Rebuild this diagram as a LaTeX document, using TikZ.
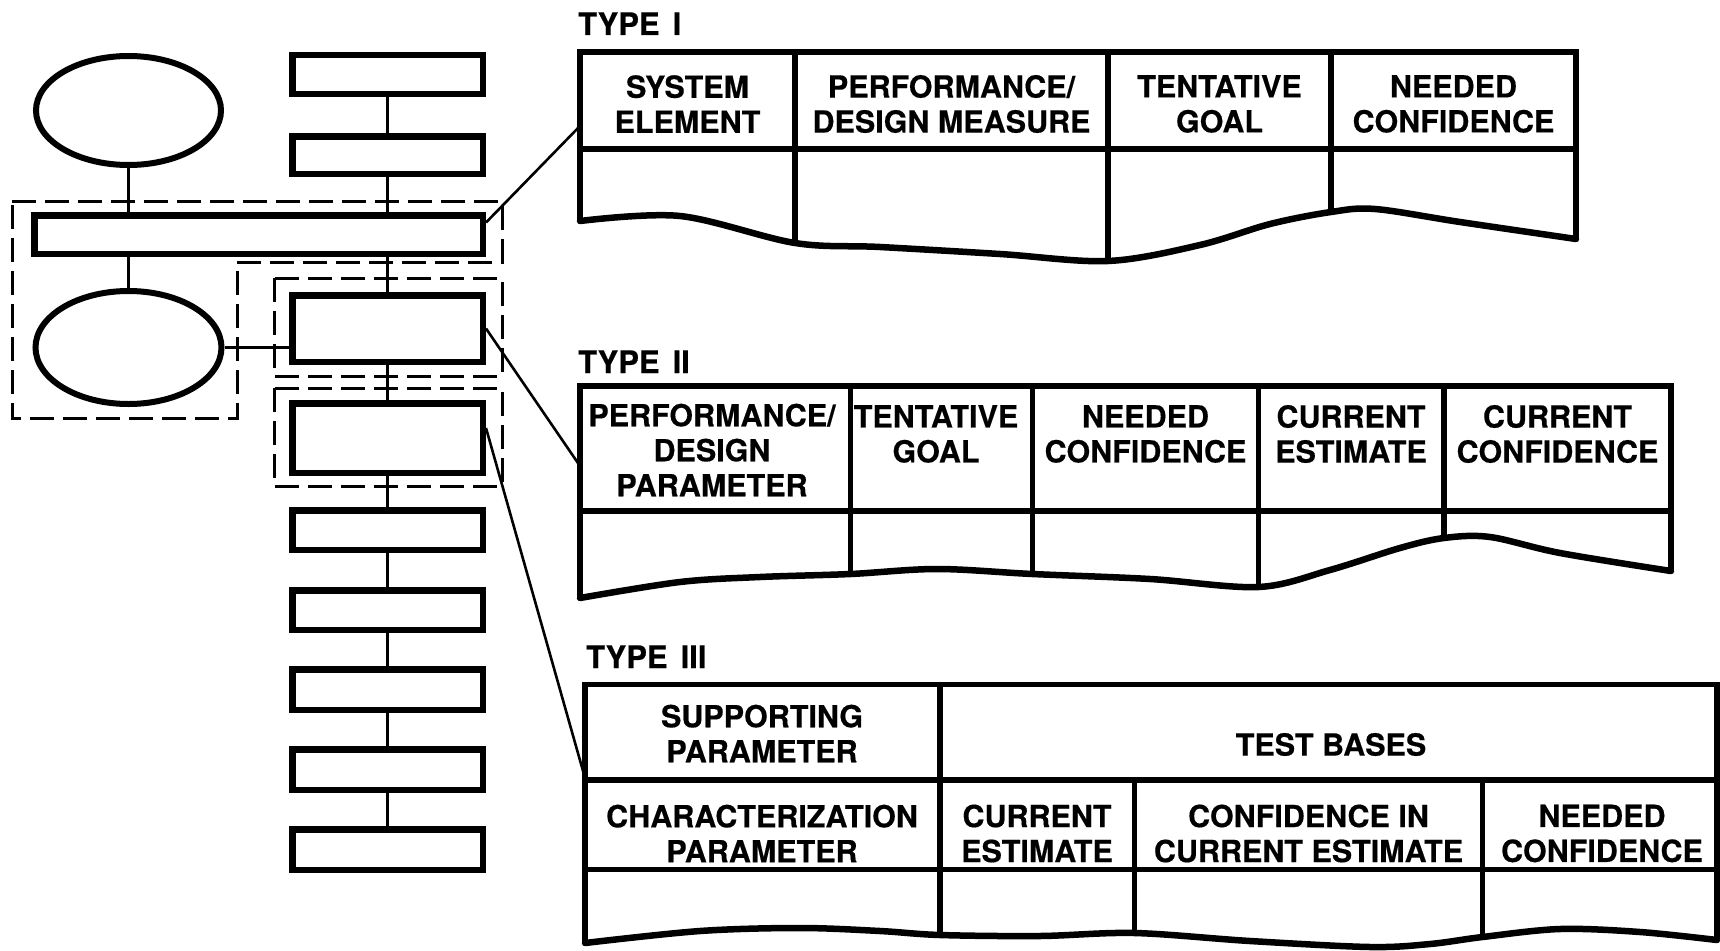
\documentclass[tikz,border=0pt]{standalone}
\usepackage{fontspec}
\newfontfamily\hv{TeX Gyre Heros}[FakeBold=0.4]
\usetikzlibrary{shapes.geometric}
\begin{document}
\begin{tikzpicture}[x=1pt,y=-1pt,
  blk/.style={draw, line width=6.5pt, rectangle, inner sep=0pt, minimum width=190.5pt, minimum height=38.5pt},
  ell/.style={draw, line width=6pt, ellipse, inner sep=0pt},
  wire/.style={line width=2.6pt},
  grp/.style={line width=3pt, dash pattern=on 24pt off 9pt},
  rule/.style={line width=5.5pt},
  tear/.style={line width=6.5pt, line join=round, line cap=round},
  lead/.style={line width=2.6pt},
  txt/.style={align=center, inner sep=0pt, font=\hv\bfseries\fontsize{30.5}{35}\selectfont},
  ttl/.style={anchor=base west, inner sep=0pt, font=\hv\bfseries\fontsize{31}{35}\selectfont}]
\useasboundingbox (0,0) rectangle (1720,950);

% ---- block chain on the left ----
\node[blk] (b1) at (387.5,74.5) {};
\node[blk, minimum height=37.5pt] (b2) at (387.5,155) {};
\node[blk, minimum width=448.5pt] (wide) at (258.5,234.5) {};
\node[blk, minimum height=66.5pt] (b3) at (387.5,328.5) {};
\node[blk, minimum height=69.5pt] (b4) at (387.5,438) {};
\node[blk, minimum height=39.5pt] (b5) at (387.5,530) {};
\node[blk, minimum height=39.5pt] (b6) at (387.5,610) {};
\node[blk, minimum height=40.5pt] (b7) at (387.5,689.5) {};
\node[blk, minimum height=40.5pt] (b8) at (387.5,769.5) {};
\node[blk, minimum height=40.5pt] (b9) at (387.5,849.5) {};
\node[ell, minimum width=185pt, minimum height=109pt] (e1) at (128.5,110.5) {};
\node[ell, minimum width=186pt, minimum height=113pt] (e2) at (128.5,347.5) {};

\draw[wire] (b1) -- (b2);
\draw[wire] (b2) -- (b2 |- wide.north);
\draw[wire] (wide.south -| b3) -- (b3);
\draw[wire] (b3) -- (b4);
\draw[wire] (b4) -- (b5);
\draw[wire] (b5) -- (b6);
\draw[wire] (b6) -- (b7);
\draw[wire] (b7) -- (b8);
\draw[wire] (b8) -- (b9);
\draw[wire] (e1) -- (e1 |- wide.north);
\draw[wire] (e2 |- wide.south) -- (e2);
\draw[wire] (e2.east) -- (e2.east -| b3.west);

% ---- dashed groupings ----
\draw[grp] (12,201) -- (502,201) -- (502,262) -- (237,262) -- (237,418) -- (12,418) -- cycle;
\draw[grp] (274,278) rectangle (502,376);
\draw[grp] (274,388) rectangle (502,486);

% ---- Type I table ----
\node[ttl] (h1) at (578,35) {TYPE\hspace{13pt}I};
\draw[rule] (580,221) -- (580,52) -- (1576,52) -- (1576,239);
\draw[rule] (580,149) -- (1576,149);
\draw[rule] (795,52) -- (795,243);
\draw[rule] (1108,52) -- (1108,261);
\draw[rule] (1331,52) -- (1331,212);
\draw[tear] plot[smooth, tension=0.55] coordinates {(580,221) (680,216) (795,243) (880,247) (1000,254) (1108,261) (1200,245) (1270,224) (1331,212) (1375,209) (1460,222) (1576,239)};
\node[txt] (c11) at (687.5,104) {SYSTEM\\ELEMENT};
\node[txt] (c12) at (951.5,104) {PERFORMANCE/\\DESIGN MEASURE};
\node[txt] (c13) at (1219.5,104) {TENTATIVE\\GOAL};
\node[txt] (c14) at (1453.5,104) {NEEDED\\CONFIDENCE};
\coordinate (pI) at (580,126);

% ---- Type II table ----
\node[ttl] (h2) at (578,373) {TYPE\hspace{13pt}II};
\draw[rule] (580,598) -- (580,386) -- (1671,386) -- (1671,571);
\draw[rule] (580,511) -- (1671,511);
\draw[rule] (850.5,386) -- (850.5,574);
\draw[rule] (1032.5,386) -- (1032.5,574);
\draw[rule] (1258.5,386) -- (1258.5,587);
\draw[rule] (1444,386) -- (1444,538);
\draw[tear] plot[smooth, tension=0.55] coordinates {(580,598) (680,582) (760,577) (850.5,574) (937,569) (1032.5,574) (1150,579) (1258.5,587) (1330,570) (1400,548) (1444,538) (1490,537) (1560,553) (1671,571)};
\node[txt] (c21) at (712,450) {PERFORMANCE/\\DESIGN\\PARAMETER};
\node[txt] (c22) at (936,434) {TENTATIVE\\GOAL};
\node[txt] (c23) at (1145.5,434) {NEEDED\\CONFIDENCE};
\node[txt] (c24) at (1351,434) {CURRENT\\ESTIMATE};
\node[txt] (c25) at (1557.5,434) {CURRENT\\CONFIDENCE};
\coordinate (pII) at (580,466);

% ---- Type III table ----
\node[ttl] (h3) at (586,668) {TYPE\hspace{13pt}III};
\draw[rule] (585,943) -- (585,684.5) -- (1717,684.5) -- (1717,940);
\draw[rule] (585,780) -- (1717,780);
\draw[rule] (585,869.5) -- (1717,869.5);
\draw[rule] (940,684.5) -- (940,935);
\draw[rule] (1134.5,780) -- (1134.5,933);
\draw[rule] (1482.5,780) -- (1482.5,937);
\draw[tear] plot[smooth, tension=0.55] coordinates {(585,943) (700,931) (800,928) (880,931) (940,935) (1040,936) (1134.5,933) (1250,941) (1370,947) (1430,944) (1482.5,937) (1560,929) (1640,932) (1717,940)};
\node[txt] (c31) at (762,733.5) {SUPPORTING\\PARAMETER};
\node[txt] (c32) at (1331,744.5) {TEST BASES};
\node[txt] (c33) at (762,833.5) {CHARACTERIZATION\\PARAMETER};
\node[txt] (c34) at (1037,833.5) {CURRENT\\ESTIMATE};
\node[txt] (c35) at (1308.5,833.5) {CONFIDENCE IN\\CURRENT ESTIMATE};
\node[txt] (c36) at (1602,833.5) {NEEDED\\CONFIDENCE};
\coordinate (pIII) at (585,778);

% ---- leaders from blocks to tables ----
\draw[lead] ([yshift=12pt]wide.east) -- (pI);
\draw[lead] (b3.east) -- (pII);
\draw[lead] ([yshift=10pt]b4.east) -- (pIII);
\end{tikzpicture}
\end{document}
